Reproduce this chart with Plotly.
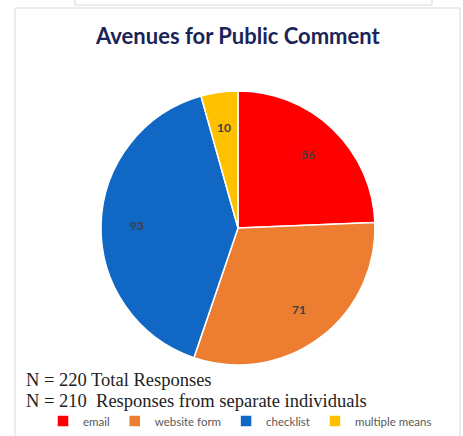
import math
import plotly.graph_objects as go

categories = ["email", "website form", "checklist", "multiple means"]
values = [56, 71, 93, 10]
colors = ["#FF0000", "#ED7D31", "#1068C4", "#FFC000"]
title_text = "Avenues for Public Comment"
note_lines = ["N = 220 Total Responses", "N = 210  Responses from separate individuals"]

W, H = 463, 436

# pie geometry (paper fractions)
dom_x = [101 / W, 375 / W]
dom_y = [1 - 365 / H, 1 - 91 / H]

fig = go.Figure(go.Pie(
    labels=categories,
    values=values,
    sort=False,
    direction="clockwise",
    rotation=0,
    marker=dict(colors=colors, line=dict(color="white", width=1.5)),
    textinfo="none",
    domain=dict(x=dom_x, y=dom_y),
    hoverinfo="label+value",
))

# data labels placed at slice mid-angles (computed from the values)
cx = (dom_x[0] + dom_x[1]) / 2 * W
cy = (1 - (dom_y[0] + dom_y[1]) / 2) * H
r = (dom_x[1] - dom_x[0]) * W / 2
label_frac = 0.74
total = sum(values)
annotations = []
cum = 0
for v in values:
    mid = (cum + v / 2) / total * 2 * math.pi
    cum += v
    px = cx + label_frac * r * math.sin(mid)
    py = cy - label_frac * r * math.cos(mid)
    annotations.append(dict(text=f"<b>{v}</b>", x=px / W, y=1 - py / H, xref="paper", yref="paper",
                            xanchor="center", yanchor="middle", showarrow=False,
                            font=dict(family="Lato", size=12, color="#404040")))

shapes = [
    dict(type="rect", xref="paper", yref="paper",
         x0=15 / W, x1=460 / W, y0=-0.05, y1=1 - 8 / H,
         line=dict(color="#D9D9D9", width=1), fillcolor="rgba(0,0,0,0)", layer="below"),
    dict(type="path", xref="paper", yref="paper",
         path=f"M {75/W},1.02 L {75/W},{1-5/H} L {432/W},{1-5/H} L {432/W},1.02",
         line=dict(color="#D9D9D9", width=1)),
]

annotations += [
    dict(text=f"<b>{title_text}</b>", x=238 / W, y=1 - 35 / H, xref="paper", yref="paper",
         xanchor="center", yanchor="middle", showarrow=False,
         font=dict(family="Lato", size=22, color="#1A2459")),
    dict(text=note_lines[0], x=24 / W, y=1 - 380 / H, xref="paper", yref="paper",
         xanchor="left", yanchor="middle", showarrow=False,
         font=dict(family="Liberation Serif", size=18.5, color="#222222")),
    dict(text=note_lines[1], x=24 / W, y=1 - 401 / H, xref="paper", yref="paper",
         xanchor="left", yanchor="middle", showarrow=False,
         font=dict(family="Liberation Serif", size=18.5, color="#222222")),
]

fig.update_layout(
    width=W, height=H,
    margin=dict(l=0, r=0, t=0, b=0),
    paper_bgcolor="white",
    plot_bgcolor="white",
    showlegend=True,
    legend=dict(orientation="h", x=240 / W, xanchor="center", y=1 - 421 / H, yanchor="middle",
                font=dict(family="Lato", size=11.5, color="#595959"),
                itemwidth=30, tracegroupgap=0, bgcolor="rgba(0,0,0,0)"),
    shapes=shapes,
    annotations=annotations,
)

fig.write_html("out.html")
